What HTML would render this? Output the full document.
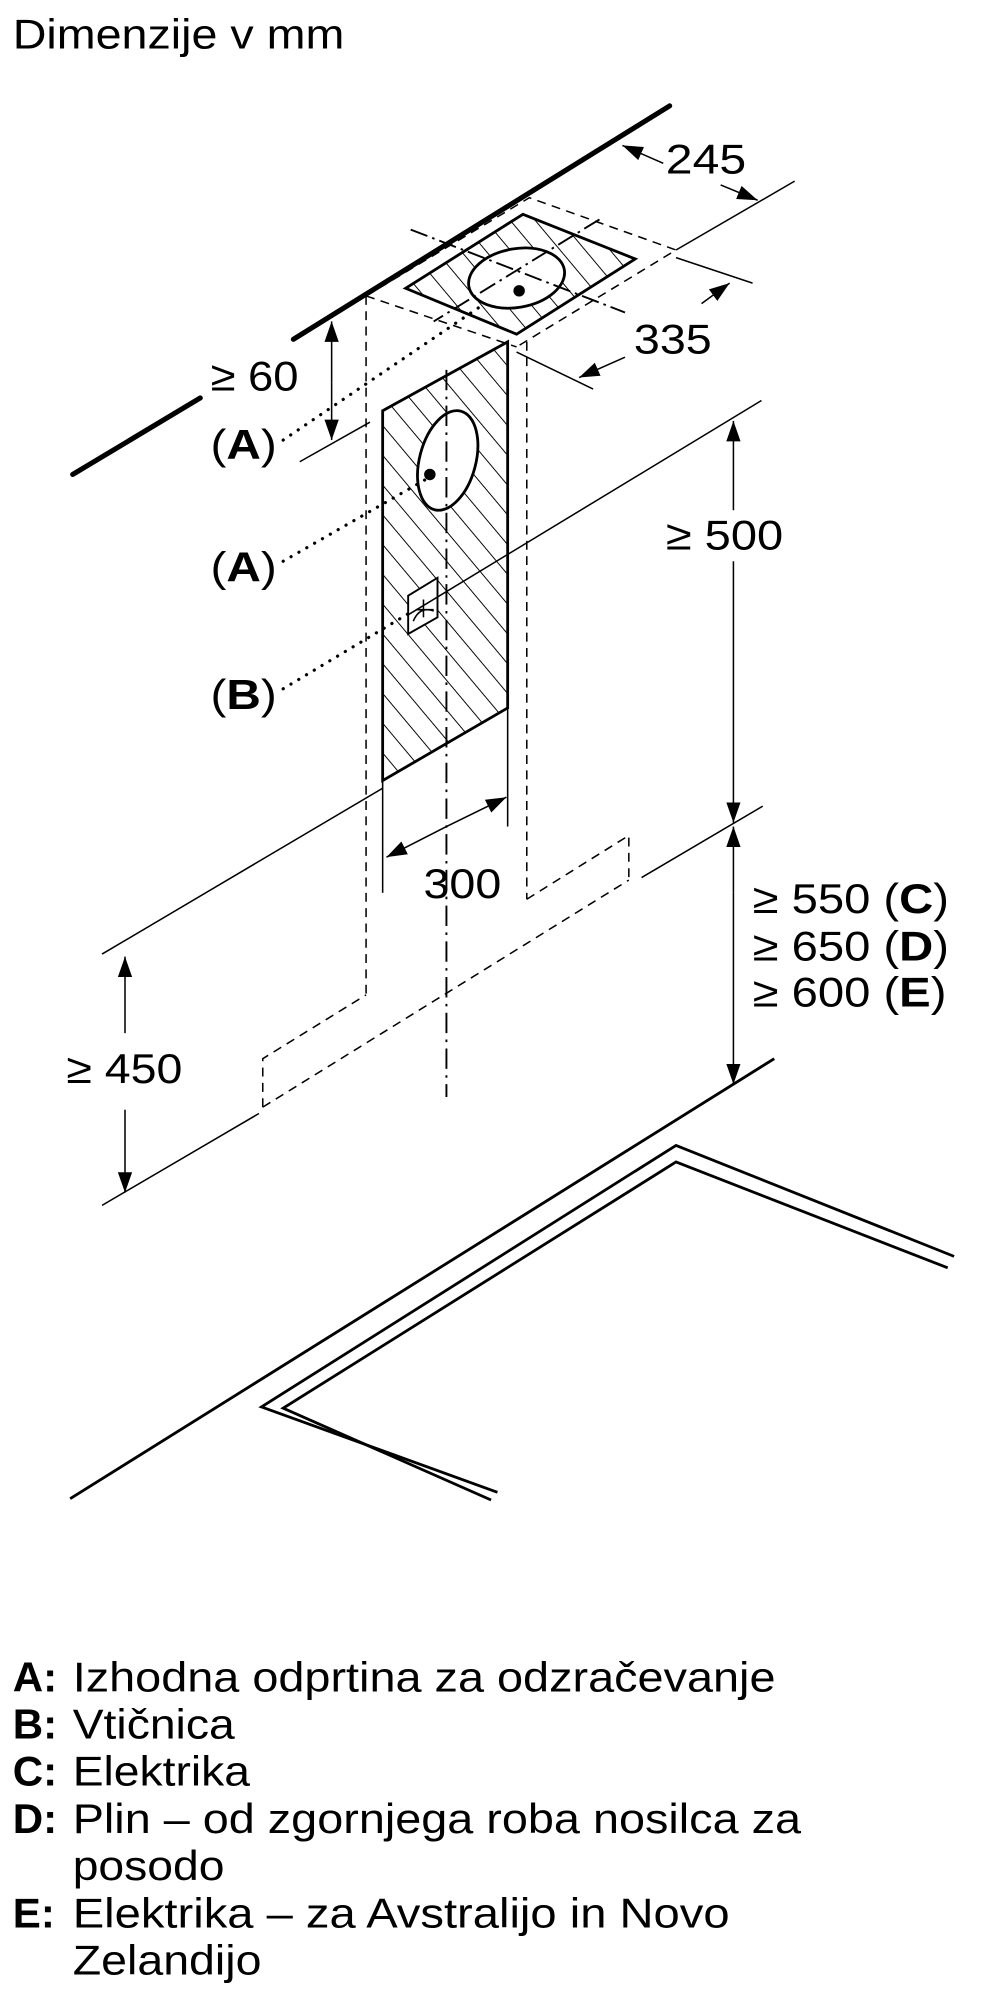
<!DOCTYPE html>
<html><head><meta charset="utf-8"><style>
html,body{margin:0;padding:0;background:#fff;}
svg{display:block;}
text{font-family:"Liberation Sans",Arial,sans-serif;fill:#000;}
</style></head><body>
<svg width="1000" height="2000" viewBox="0 0 784 1568" preserveAspectRatio="none" xmlns="http://www.w3.org/2000/svg">
<defs>
<pattern id="h" patternUnits="userSpaceOnUse" width="15" height="15" patternTransform="rotate(-40)">
<line x1="0" y1="0" x2="0" y2="15" stroke="#000" stroke-width="1.5"/>
</pattern>
<marker id="ar" viewBox="0 0 10 10" refX="10" refY="5" markerWidth="16" markerHeight="16" markerUnits="userSpaceOnUse" orient="auto-start-reverse">
<path d="M0,1.5 L10,5 L0,8.5 z" fill="#000"/>
</marker>
</defs>
<text x="10" y="38" font-size="33" textLength="260" lengthAdjust="spacingAndGlyphs">Dimenzije v mm</text>

<g stroke="#000" fill="none">
<line x1="57" y1="372" x2="157" y2="312" stroke-width="4" stroke-linecap="round"/>
<line x1="230" y1="266" x2="525" y2="83" stroke-width="4" stroke-linecap="round"/>

<g stroke-width="1.2" stroke-dasharray="7,5">
<polyline points="287,232 415,155 530,196 405,272"/>
<line x1="287" y1="232" x2="405" y2="272"/>
<line x1="287" y1="232" x2="287" y2="780"/>
<line x1="413" y1="268" x2="413" y2="705"/>
<polyline points="206,868 206,830 287,780"/>
<polyline points="413,705 493,655 493,690"/>
<line x1="206" y1="868" x2="493" y2="690"/>
</g>

<polygon points="318,226 410,168 498,203 405,262" fill="url(#h)" stroke-width="2.2"/>
<ellipse cx="405" cy="218" rx="38" ry="23" transform="rotate(-10 405 218)" fill="#fff" stroke-width="2.2"/>
<circle cx="407" cy="228" r="4.5" fill="#000" stroke="none"/>
<g stroke-width="1.5" stroke-dasharray="14,4,2,4">
<line x1="322" y1="180" x2="490" y2="245"/>
<line x1="470" y1="172" x2="340" y2="252"/>
</g>

<polygon points="300,322 398,268 398,555 300,612" fill="url(#h)" stroke-width="2.2"/>
<ellipse cx="351" cy="361" rx="22" ry="40" transform="rotate(15 351 361)" fill="#fff" stroke-width="2.2"/>
<circle cx="337" cy="372" r="4.5" fill="#000" stroke="none"/>
<polygon points="320,467 343,453 343,484 320,497" fill="#fff" stroke-width="1.5"/>
<path d="M324,487 q5,-12 16,-8 M332,470 v14 M326,478 h14" stroke-width="1.2"/>
<line x1="350" y1="290" x2="350" y2="860" stroke-width="1.5" stroke-dasharray="16,5,2,5"/>

<g stroke-width="2.5" stroke-dasharray="0.1,7" stroke-linecap="round">
<line x1="222" y1="345" x2="380" y2="238"/>
<line x1="222" y1="440" x2="337" y2="374"/>
<line x1="222" y1="540" x2="322" y2="480"/>
</g>

<g stroke-width="1.2">
<line x1="530" y1="196" x2="623" y2="142"/>
<line x1="520" y1="128" x2="488" y2="114" marker-end="url(#ar)"/>
<line x1="565" y1="145" x2="594" y2="157" marker-end="url(#ar)"/>
<line x1="530" y1="202" x2="590" y2="222"/>
<line x1="405" y1="276" x2="465" y2="305"/>
<line x1="550" y1="238" x2="572" y2="222" marker-end="url(#ar)"/>
<line x1="490" y1="280" x2="454" y2="296" marker-end="url(#ar)"/>
<line x1="235" y1="362" x2="290" y2="331"/>
<line x1="260" y1="300" x2="260" y2="252" marker-end="url(#ar)"/>
<line x1="260" y1="300" x2="260" y2="345" marker-end="url(#ar)"/>
<line x1="300" y1="612" x2="300" y2="700"/>
<line x1="398" y1="555" x2="398" y2="648"/>
<line x1="350" y1="648" x2="303" y2="672" marker-end="url(#ar)"/>
<line x1="350" y1="648" x2="397" y2="625" marker-end="url(#ar)"/>
<line x1="320" y1="482" x2="597" y2="314"/>
<line x1="575" y1="400" x2="575" y2="330" marker-end="url(#ar)"/>
<line x1="575" y1="440" x2="575" y2="645" marker-end="url(#ar)"/>
<line x1="503" y1="688" x2="598" y2="632"/>
<line x1="575" y1="700" x2="575" y2="648" marker-end="url(#ar)"/>
<line x1="575" y1="700" x2="575" y2="850" marker-end="url(#ar)"/>
<line x1="80" y1="748" x2="300" y2="618"/>
<line x1="80" y1="945" x2="203" y2="873"/>
<line x1="98" y1="810" x2="98" y2="750" marker-end="url(#ar)"/>
<line x1="98" y1="870" x2="98" y2="935" marker-end="url(#ar)"/>
</g>

<g stroke-width="2.2">
<line x1="55" y1="1175" x2="607" y2="830"/>
<polyline points="390,1170 205,1103 530,898 748,985"/>
<polyline points="385,1176 222,1104 530,911 743,994"/>
</g>
</g>

<g font-size="33">
<text x="522" y="136" textLength="63" lengthAdjust="spacingAndGlyphs">245</text>
<text x="497" y="277" textLength="61" lengthAdjust="spacingAndGlyphs">335</text>
<text x="165" y="306" textLength="69" lengthAdjust="spacingAndGlyphs">≥ 60</text>
<text x="165" y="360" textLength="52" lengthAdjust="spacingAndGlyphs">(<tspan font-weight="bold">A</tspan>)</text>
<text x="165" y="456" textLength="52" lengthAdjust="spacingAndGlyphs">(<tspan font-weight="bold">A</tspan>)</text>
<text x="165" y="556" textLength="52" lengthAdjust="spacingAndGlyphs">(<tspan font-weight="bold">B</tspan>)</text>
<text x="332" y="704" textLength="61" lengthAdjust="spacingAndGlyphs">300</text>
<text x="522" y="431" textLength="92" lengthAdjust="spacingAndGlyphs">≥ 500</text>
<text x="590" y="716" textLength="154" lengthAdjust="spacingAndGlyphs">≥ 550 (<tspan font-weight="bold">C</tspan>)</text>
<text x="590" y="753" textLength="154" lengthAdjust="spacingAndGlyphs">≥ 650 (<tspan font-weight="bold">D</tspan>)</text>
<text x="590" y="789" textLength="152" lengthAdjust="spacingAndGlyphs">≥ 600 (<tspan font-weight="bold">E</tspan>)</text>
<text x="52" y="849" textLength="91" lengthAdjust="spacingAndGlyphs">≥ 450</text>
</g>

<g font-size="33">
<text x="10" y="1326" font-weight="bold">A:</text><text x="57" y="1326" textLength="551" lengthAdjust="spacingAndGlyphs">Izhodna odprtina za odzračevanje</text>
<text x="10" y="1363" font-weight="bold">B:</text><text x="57" y="1363" textLength="127" lengthAdjust="spacingAndGlyphs">Vtičnica</text>
<text x="10" y="1400" font-weight="bold">C:</text><text x="57" y="1400" textLength="139" lengthAdjust="spacingAndGlyphs">Elektrika</text>
<text x="10" y="1437" font-weight="bold">D:</text><text x="57" y="1437" textLength="571" lengthAdjust="spacingAndGlyphs">Plin – od zgornjega roba nosilca za</text>
<text x="57" y="1474" textLength="119" lengthAdjust="spacingAndGlyphs">posodo</text>
<text x="10" y="1511" font-weight="bold">E:</text><text x="57" y="1511" textLength="515" lengthAdjust="spacingAndGlyphs">Elektrika – za Avstralijo in Novo</text>
<text x="57" y="1548" textLength="148" lengthAdjust="spacingAndGlyphs">Zelandijo</text>
</g>
</svg>
</body></html>
